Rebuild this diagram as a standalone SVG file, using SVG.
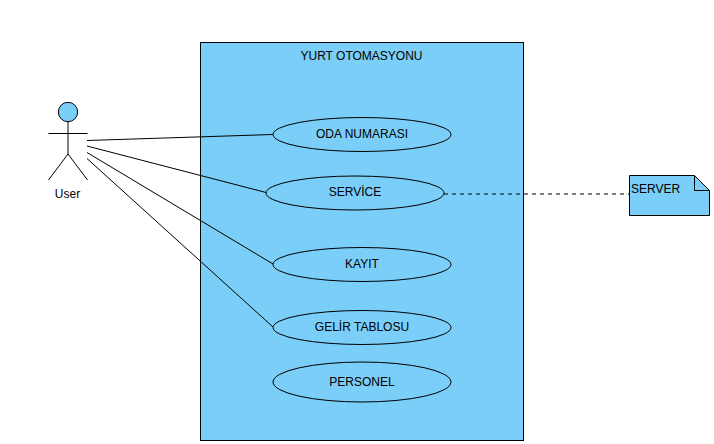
<svg xmlns="http://www.w3.org/2000/svg" width="714" height="444" viewBox="0 0 714 444">
<style>
text{font-family:"Liberation Sans",Arial,sans-serif;font-size:12px;fill:#000;text-anchor:middle}
.s{fill:#7acef7;stroke:#000;stroke-width:1}
.l{fill:none;stroke:#000;stroke-width:1}
</style>
<rect width="714" height="444" fill="#fff"/>
<g id="system"><rect class="s" x="200.500" y="42.500" width="323" height="398"/><text x="361.500" y="60">YURT OTOMASYONU</text></g>
<g id="connectors">
<path class="l" d="M87 140.500L273 134.500"/>
<path class="l" d="M87 146L266 192.500"/>
<path class="l" d="M87 152.500L273 264"/>
<path class="l" d="M87 158.500L273 327"/>
<path class="l" d="M444 194H629.500" stroke-dasharray="4 4"/>
</g>
<g id="user">
<circle class="s" cx="68" cy="112" r="9.700"/>
<path class="l" d="M68 122V154M48.500 133.500H87.500M48.500 180L68 154L87.500 180"/>
<text x="67.500" y="198">User</text>
</g>
<g id="oda"><ellipse class="s" cx="362" cy="134.500" rx="89" ry="17"/><text x="362" y="138">ODA NUMARASI</text></g>
<g id="service"><ellipse class="s" cx="355" cy="193" rx="89" ry="17"/><text x="355" y="196">SERVİCE</text></g>
<g id="kayit"><ellipse class="s" cx="362" cy="264.500" rx="89" ry="17"/><text x="362" y="268">KAYIT</text></g>
<g id="gelir"><ellipse class="s" cx="362" cy="327.500" rx="89" ry="17"/><text x="362" y="331">GELİR TABLOSU</text></g>
<g id="personel"><ellipse class="s" cx="362" cy="382" rx="89" ry="20"/><text x="362" y="386">PERSONEL</text></g>
<g id="server">
<path class="s" d="M629.500 175.500H694.500L709.500 190.500V215.500H629.500Z"/>
<path class="l" d="M694.500 175.500V190.500H709.500"/>
<text x="655.500" y="193">SERVER</text>
</g>
</svg>
